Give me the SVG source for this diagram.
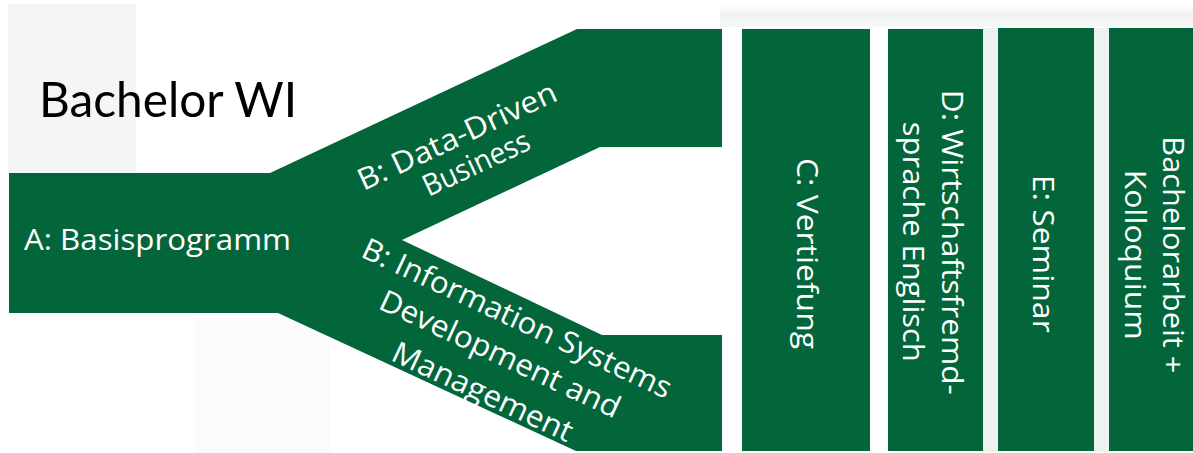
<svg xmlns="http://www.w3.org/2000/svg" width="1193" height="453" viewBox="0 0 1193 453">
  <defs>
    <linearGradient id="topband" x1="0" y1="0" x2="0" y2="1">
      <stop offset="0" stop-color="#ffffff"/>
      <stop offset="0.5" stop-color="#eef2ef"/>
      <stop offset="1" stop-color="#f7f9f8"/>
    </linearGradient>
  </defs>
  <style>
    .g { fill: #03653a; }
    .t { fill: #ffffff; font-family: "Open Sans", "DejaVu Sans", sans-serif; font-size: 30px; }
    .title { fill: #000000; font-family: Lato, "Open Sans", sans-serif; font-size: 49px; }
    .bg { fill: #f4f6f5; }
  </style>
  <rect x="0" y="0" width="1193" height="453" fill="#ffffff"/>
  <g id="background">
    <rect class="bg" x="8" y="4" width="128" height="170"/>
    <rect x="195" y="318" width="135" height="135" fill="#fafbfa"/>
    <rect x="720" y="3" width="473" height="24" fill="url(#topband)"/>
    <rect x="983" y="28" width="15" height="424" fill="#eef2ef"/>
    <rect x="1094" y="28" width="15" height="424" fill="#eef2ef"/>
  </g>
  <g id="title">
    <text class="title" x="39" y="117" textLength="258" lengthAdjust="spacingAndGlyphs">Bachelor WI</text>
  </g>
  <g id="connectors"></g>
  <g id="node-path">
    <path class="g" d="M9,173 L270,173 L577,29 L722,29 L722,147 L600,147 L402,240 L602,335 L722,335 L722,451 L576,451 L278,313 L9,313 Z"/>
  </g>
  <g id="node-A">
    <text class="t" x="24" y="250" textLength="267" lengthAdjust="spacingAndGlyphs">A: Basisprogramm</text>
  </g>
  <g id="node-B1">
    <text class="t" transform="translate(365.7,190) rotate(-25)" x="-2.5" y="0" textLength="216" lengthAdjust="spacingAndGlyphs">B: Data-Driven</text>
    <text class="t" transform="translate(430.7,196) rotate(-25)" x="-2.5" y="0" textLength="115" lengthAdjust="spacingAndGlyphs">Business</text>
  </g>
  <g id="node-B2">
    <text class="t" transform="translate(361.7,257.3) rotate(25)" x="-2.5" y="0" textLength="338" lengthAdjust="spacingAndGlyphs">B: Information Systems</text>
    <text class="t" transform="translate(379.3,309) rotate(25)" x="-2.5" y="0" textLength="262" lengthAdjust="spacingAndGlyphs">Development and</text>
    <text class="t" transform="translate(391.7,360.7) rotate(25)" x="-2.5" y="0" textLength="196" lengthAdjust="spacingAndGlyphs">Management</text>
  </g>
  <g id="node-C">
    <rect class="g" x="742" y="29" width="128" height="422"/>
    <text class="t" transform="translate(797,160) rotate(90)" x="-2" y="0" textLength="191" lengthAdjust="spacingAndGlyphs">C: Vertiefung</text>
  </g>
  <g id="node-D">
    <rect class="g" x="888" y="29" width="95" height="422"/>
    <text class="t" transform="translate(941.7,91.7) rotate(90)" x="-2" y="0" textLength="305" lengthAdjust="spacingAndGlyphs">D: Wirtschaftsfremd-</text>
    <text class="t" transform="translate(902.7,123.3) rotate(90)" x="-1.5" y="0" textLength="240" lengthAdjust="spacingAndGlyphs">sprache Englisch</text>
  </g>
  <g id="node-E">
    <rect class="g" x="998" y="28" width="96" height="423"/>
    <text class="t" transform="translate(1033.3,176.7) rotate(90)" x="-2" y="0" textLength="158" lengthAdjust="spacingAndGlyphs">E: Seminar</text>
  </g>
  <g id="node-F">
    <rect class="g" x="1109" y="28" width="84" height="423"/>
    <text class="t" transform="translate(1163.3,138.3) rotate(90)" x="-2" y="0" textLength="237" lengthAdjust="spacingAndGlyphs">Bachelorarbeit +</text>
    <text class="t" transform="translate(1125,171.7) rotate(90)" x="-2" y="0" textLength="170" lengthAdjust="spacingAndGlyphs">Kolloquium</text>
  </g>
</svg>
